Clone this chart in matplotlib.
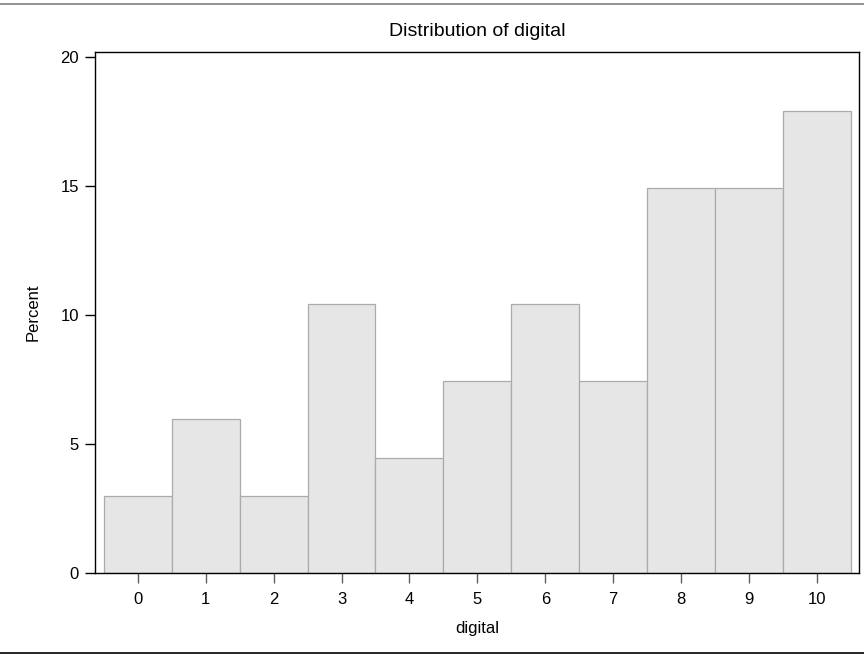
import matplotlib
matplotlib.use("Agg")
import matplotlib.pyplot as plt
from matplotlib.lines import Line2D

categories = [0, 1, 2, 3, 4, 5, 6, 7, 8, 9, 10]
percent = [2.985, 5.970, 2.985, 10.448, 4.478, 7.463, 10.448, 7.463, 14.925, 14.925, 17.910]
yticks = [0, 5, 10, 15, 20]

plt.rcParams['font.family'] = ['Liberation Sans', 'DejaVu Sans']

fig = plt.figure(figsize=(8.64, 6.54), dpi=100)
ax = fig.add_axes([95/864, 1 - 573/654, (859-95)/864, (573-52)/654])

ax.bar(categories, percent, width=1.0, color='#e6e6e6', edgecolor='#ababab', linewidth=0.9)
ax.set_xlim(-0.63, 10.62)
ax.set_ylim(0, 20.2)
ax.set_xticks(categories)
ax.set_xticklabels([str(c) for c in categories])
ax.set_yticks(yticks)
ax.tick_params(axis='both', labelsize=12, length=7.5, width=1.0, colors='black')
ax.tick_params(axis='x', color='#606060', pad=6)
ax.tick_params(axis='y', pad=4)
for s in ax.spines.values():
    s.set_linewidth(1.0)
    s.set_color('black')

ax.set_xlabel('digital', fontsize=12, va='center')
ax.xaxis.set_label_coords(0.5, (573 - 629) / 521)
ax.set_ylabel('Percent', fontsize=12, va='center')
ax.yaxis.set_label_coords((33 - 95) / 764, 0.5)
fig.text(477/864, 1 - 31/654, 'Distribution of digital', ha='center', va='center', fontsize=14)

fig.add_artist(Line2D([0, 1], [1 - 3.5/654, 1 - 3.5/654], color='#808080', linewidth=1.2, transform=fig.transFigure))
fig.add_artist(Line2D([0, 1], [1 - 652.5/654, 1 - 652.5/654], color='black', linewidth=1.2, transform=fig.transFigure))

fig.savefig('out.png', dpi=100)
